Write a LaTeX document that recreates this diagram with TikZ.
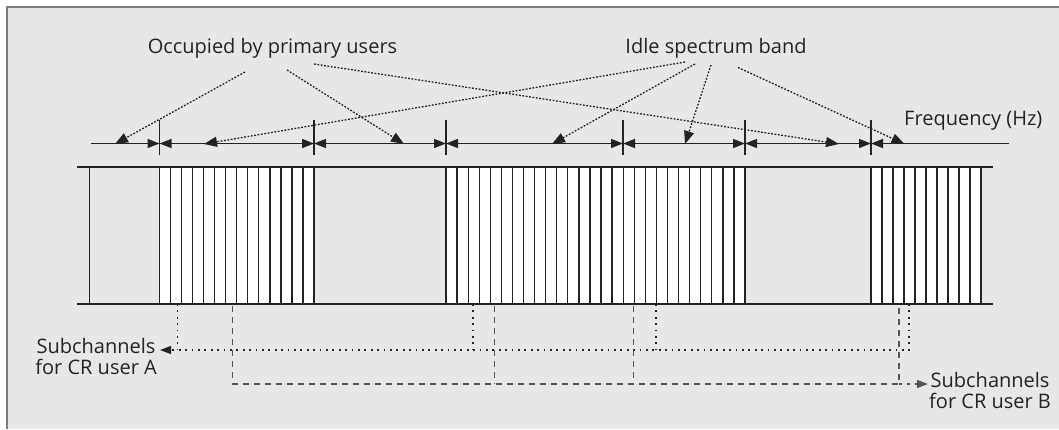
\documentclass[tikz,border=0pt]{standalone}
\usepackage{fontspec}
\setmainfont{Open Sans}
\usetikzlibrary{arrows.meta}
\definecolor{bg}{RGB}{230,231,233}
\definecolor{framec}{RGB}{125,125,125}
\definecolor{ink}{RGB}{35,35,35}
\definecolor{dashc}{RGB}{85,85,85}
\begin{document}
\begin{tikzpicture}[x=1pt,y=-1pt,
  lbl/.style={inner sep=0pt, text=ink, font=\fontsize{20pt}{21pt}\selectfont},
  lbl2/.style={lbl, align=center},
  thin/.style={draw=ink, line width=1.3pt},
  thick/.style={draw=ink, line width=2.6pt},
  freq/.style={draw=ink, line width=1.3pt},
  tipT/.tip={Triangle[length=12pt,width=9pt]},
  ptr/.style={draw=ink, line width=1.3pt, dash pattern=on 1.8pt off 1.6pt, -{Triangle[length=13pt,width=10pt]}},
  userA/.style={draw=ink, line width=1.3pt, dash pattern=on 1.8pt off 4.6pt},
  userB/.style={draw=dashc, line width=1.4pt, dash pattern=on 6pt off 5pt},
  ]
\useasboundingbox (0,0) rectangle (1059,429);
\fill[white] (0,0) rectangle (1059,429);
\fill[bg] (7,7) rectangle (1059,429);
\draw[framec, line width=2pt] (7,429) -- (7,7) -- (1059,7);

% bands of sub-channels
\foreach \a/\b/\n in {159.5/314/14, 446/745/27, 871/981/10}{
  \fill[white] (\a,167) rectangle (\b,304);
  \foreach \i in {0,...,\n}{
    \draw[thin] ({\a+\i*(\b-\a)/\n},167) -- ({\a+\i*(\b-\a)/\n},304);
  }
}
\draw[thin] (89.5,167) -- (89.5,304);
\draw[thick] (77,167) -- (993,167);
\draw[thick] (77,304) -- (993,304);

% frequency axis
\coordinate (f0) at (90.5,143.5);
\coordinate (t1) at (159.5,143.5);
\coordinate (t2) at (314,143.5);
\coordinate (t3) at (446,143.5);
\coordinate (t4) at (623,143.5);
\coordinate (t5) at (745,143.5);
\coordinate (t6) at (871,143.5);
\coordinate (f7) at (1009,143.5);
\foreach \t in {t1,t2,t3,t4,t5,t6}{
  \draw[thin] ([yshift=-11.5pt]\t) -- ([yshift=23.5pt]\t);
}
\draw[freq, -tipT] (f0) -- (t1);
\draw[freq, tipT-tipT] (t1) -- (t2);
\draw[freq, tipT-tipT] (t2) -- (t3);
\draw[freq, tipT-tipT] (t3) -- (t4);
\draw[freq, tipT-tipT] (t4) -- (t5);
\draw[freq, tipT-tipT] (t5) -- (t6);
\draw[freq, tipT-] (t6) -- (f7);

% labels
\node[lbl, anchor=base] (occ) at (272.5,53) {Occupied by primary users};
\node[lbl, anchor=base] (idle) at (716,53) {Idle spectrum band};
\node[lbl, anchor=base west] (freqlbl) at (904,125) {Frequency (Hz)};

% pointers from labels
\coordinate (o1s) at (245,72);  \coordinate (o1e) at (115,144);
\coordinate (o2s) at (287,70);  \coordinate (o2e) at (404,144);
\coordinate (o3s) at (314,64);  \coordinate (o3e) at (839,144);
\coordinate (i1s) at (685,62);  \coordinate (i1e) at (204,144);
\coordinate (i2s) at (695,64);  \coordinate (i2e) at (552,144);
\coordinate (i3s) at (711,65);  \coordinate (i3e) at (685,144);
\coordinate (i4s) at (738,67.5);\coordinate (i4e) at (904.5,144);
\foreach \p in {o1,o2,o3,i1,i2,i3,i4}{
  \draw[ptr] (\p s) -- (\p e);
}

% CR user A
\node[lbl2, anchor=north east] (subA) at (157,338) {Subchannels\\for CR user A};
\coordinate (a1) at (177.5,304); \coordinate (a1b) at (177.5,350);
\coordinate (a2) at (473,304);   \coordinate (a2b) at (473,350);
\coordinate (a3) at (656,304);   \coordinate (a3b) at (656,350);
\coordinate (a4) at (909,304);   \coordinate (a4b) at (909,350);
\draw[userA] (a1) -- (a1b);
\draw[userA] (a2) -- (a2b);
\draw[userA] (a3) -- (a3b);
\draw[userA, -{Triangle[length=11pt,width=8pt]}] (a4) -- (a4b) -- ([xshift=3pt]subA.east |- a4b);

% CR user B
\node[lbl2, anchor=north west] (subB) at (929,372) {Subchannels\\for CR user B};
\coordinate (b1) at (232.6,306); \coordinate (b1b) at (232.6,384);
\coordinate (b2) at (494.6,306); \coordinate (b2b) at (494.6,384);
\coordinate (b3) at (633.6,306); \coordinate (b3b) at (633.6,384);
\coordinate (b4) at (899,306);   \coordinate (b4b) at (899,384);
\draw[userB] (b1) -- (b1b) -- (b4b) -- (b4);
\draw[userB] (b2) -- (b2b);
\draw[userB] (b3) -- (b3b);
\draw[draw=dashc, line width=1.4pt, dash pattern=on 3pt off 5pt, -{Triangle[length=11pt,width=8pt]}] (b4b) -- ([xshift=-1pt]subB.west |- b4b);
\end{tikzpicture}
\end{document}
